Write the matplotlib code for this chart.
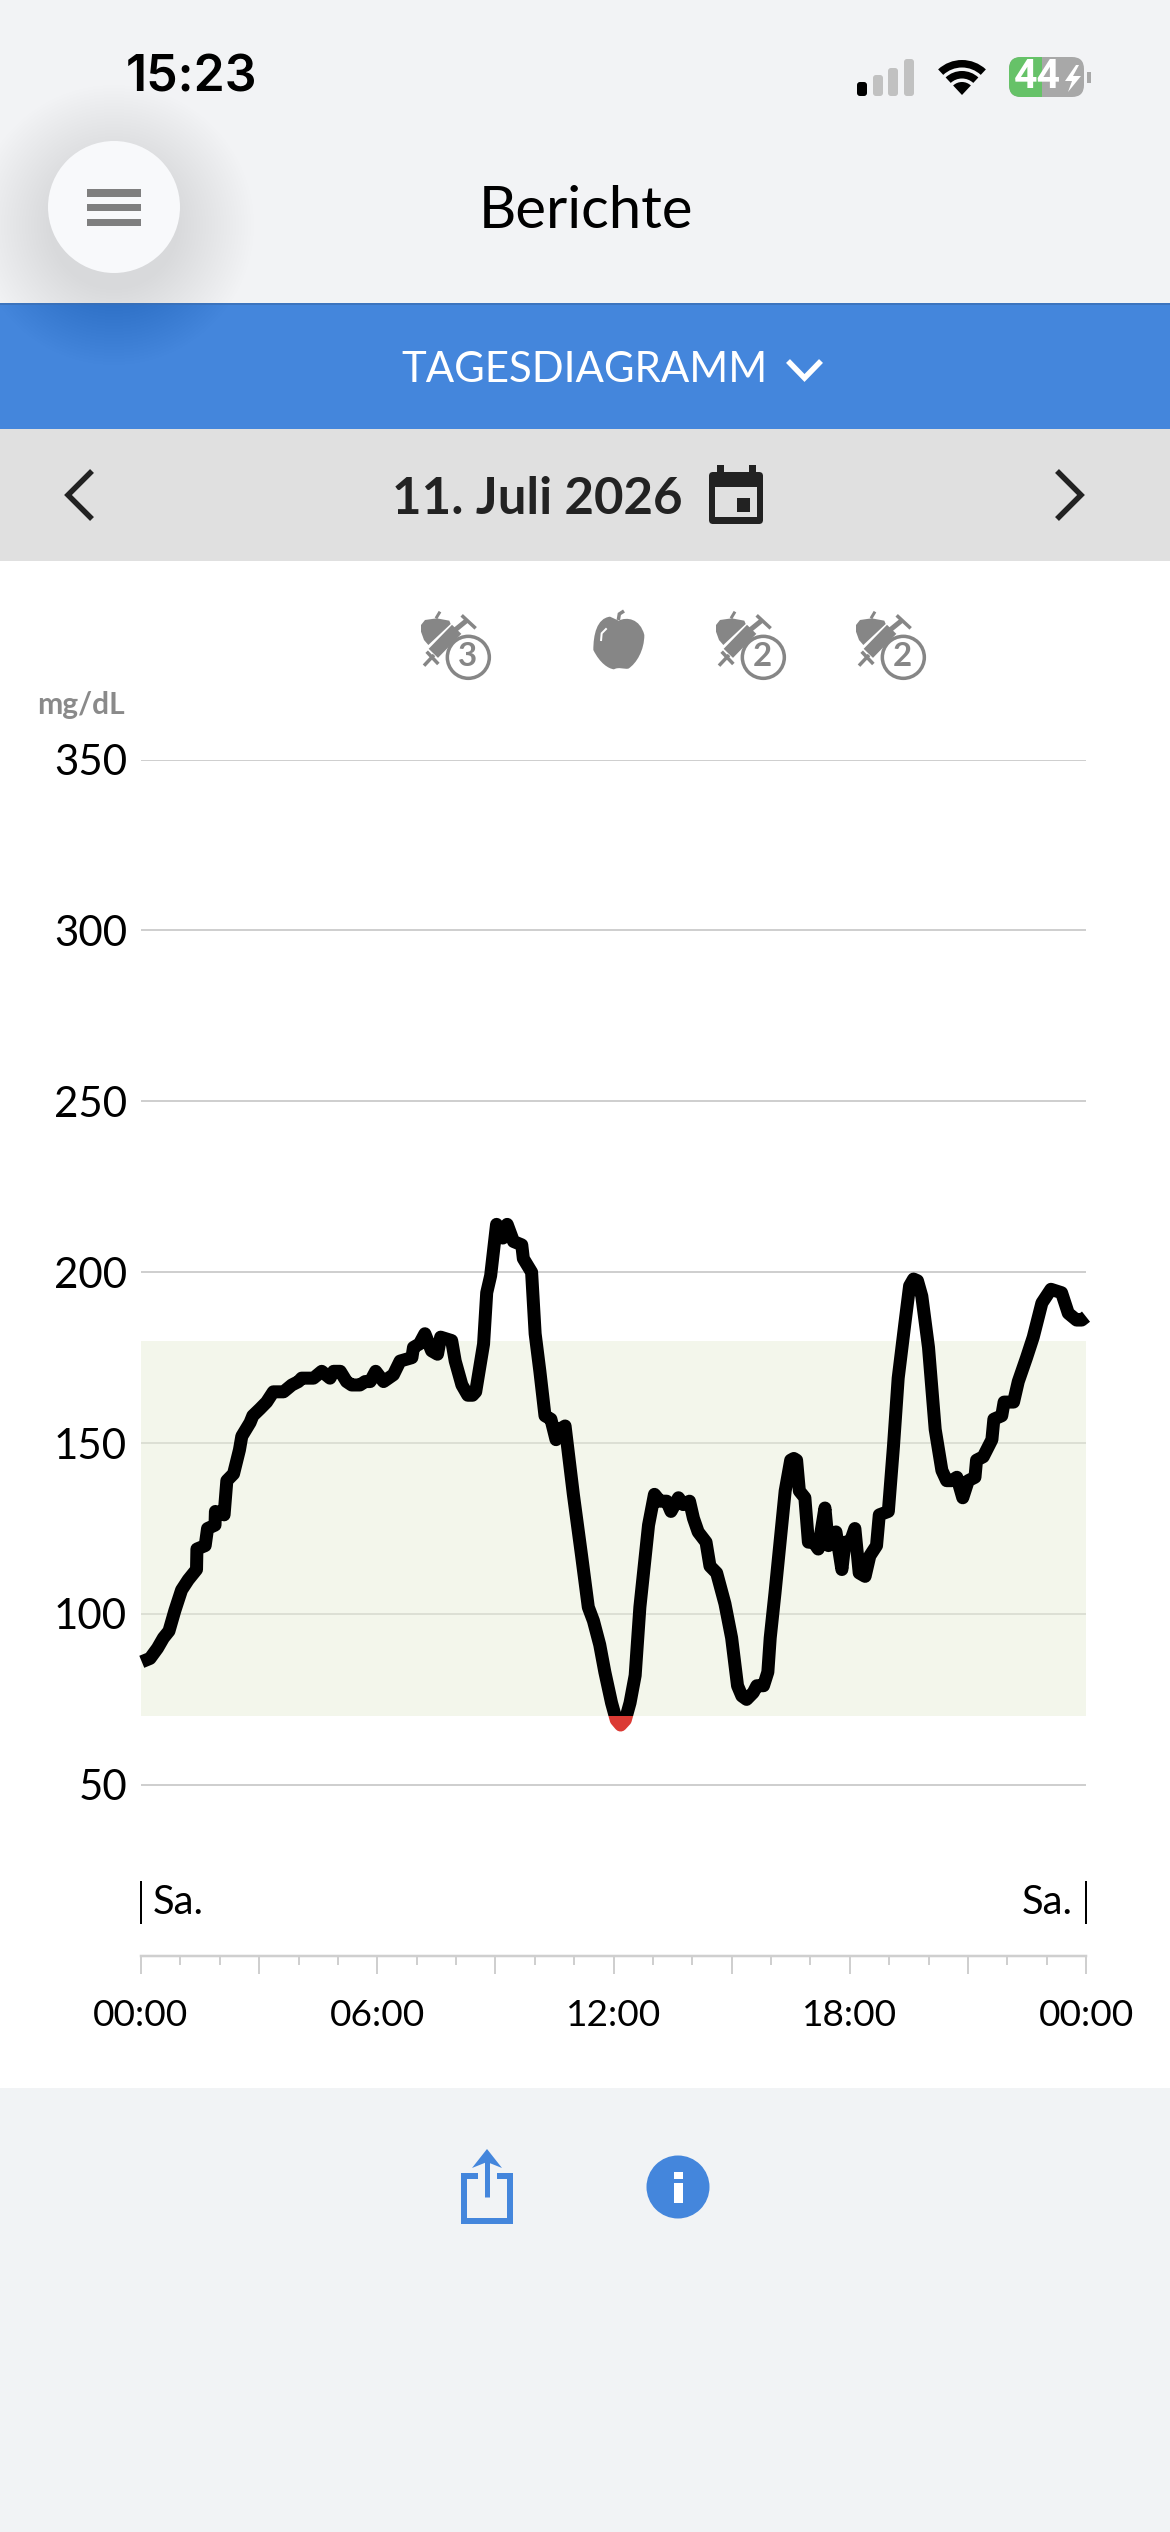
import matplotlib
matplotlib.use("Agg")
import matplotlib.pyplot as plt
from matplotlib.patches import Circle, Rectangle, Wedge, FancyBboxPatch, Polygon, PathPatch
from matplotlib.path import Path

# lectura de la curva (hora, mg/dL)
horas = [0.02, 0.23, 0.42, 0.57, 0.71, 0.86, 1.03, 1.20, 1.41, 1.42, 1.63, 1.69, 1.88, 1.89, 2.11, 2.18,
         2.35, 2.50, 2.56, 2.77, 2.84, 3.02, 3.19, 3.36, 3.62, 3.83, 4.00, 4.08, 4.38, 4.59, 4.80, 4.89,
         5.06, 5.22, 5.35, 5.56, 5.69, 5.82, 5.96, 6.16, 6.41, 6.58, 6.88, 6.92, 7.07, 7.21, 7.38, 7.53,
         7.61, 7.89, 7.98, 8.15, 8.30, 8.42, 8.50, 8.70, 8.78, 8.88, 9.03, 9.19, 9.30, 9.46, 9.67, 9.71, 9.92,
         10.01, 10.13, 10.26, 10.41, 10.54, 10.63, 10.77, 10.98, 11.19, 11.36, 11.49, 11.65, 11.78, 11.95,
         12.07, 12.18, 12.30, 12.42, 12.55, 12.67, 12.89, 13.04, 13.18, 13.35, 13.46, 13.65, 13.77, 13.93, 14.03, 14.15,
         14.35, 14.45, 14.62, 14.83, 15.00, 15.15, 15.26, 15.38, 15.55, 15.64, 15.81, 15.92, 15.98, 16.10,
         16.23, 16.36, 16.50, 16.58, 16.65, 16.72, 16.86, 16.95, 17.08, 17.20, 17.37, 17.46, 17.65, 17.80, 17.88,
         18.01, 18.13, 18.24, 18.39, 18.51, 18.68, 18.75, 18.98, 19.11, 19.23, 19.40, 19.52, 19.62, 19.72, 19.83,
         20.00, 20.17, 20.34, 20.46, 20.59, 20.72, 20.87, 21.01, 21.18, 21.22, 21.39, 21.61, 21.66, 21.86,
         21.92, 22.16, 22.28, 22.49, 22.66, 22.88, 23.11, 23.38, 23.55, 23.76, 23.89, 24.00]
glucosa = [86, 87, 90, 93, 95, 101, 107, 110, 113, 119, 120, 125, 126, 130, 129, 139,
           141, 148, 152, 156, 158, 160, 162, 165, 165, 167, 168, 169, 169, 171, 169, 171,
           171, 168, 167, 167, 168, 168, 171, 168, 170, 174, 175, 178, 179, 182, 177, 176,
           181, 180, 174, 167, 164, 164, 165, 179, 194, 199, 214, 210, 214, 209, 208, 204, 200,
           182, 171, 158, 157, 151, 154, 155, 135, 117, 102, 98, 91, 83, 74,
           69, 67.5, 69, 74, 82, 102, 126, 135, 133, 133, 130, 134, 132, 133, 128, 124,
           121, 114, 112, 103, 93, 79, 76, 75, 77, 79, 79, 83, 93, 106,
           121, 136, 145, 145.5, 145, 136, 134, 121, 121, 119, 131, 120, 124, 113, 121,
           121, 125, 112, 111, 117, 120, 129, 130, 149, 169, 185, 196, 198, 197.5, 193,
           178, 154, 142, 139, 139, 140, 134, 139, 140, 145, 146, 151, 157, 158,
           162, 162, 168, 175, 181, 191, 195, 194, 188, 186, 186, 187]

rango_min = 70
rango_max = 180
ticks_y = [50, 100, 150, 200, 250, 300, 350]
ticks_mayor = [0, 3, 6, 9, 12, 15, 18, 21, 24]
etiquetas_x = ["00:00", "", "06:00", "", "12:00", "", "18:00", "", "00:00"]
ticks_menor = [1, 2, 4, 5, 7, 8, 10, 11, 13, 14, 16, 17, 19, 20, 22, 23]

FUENTE = "Lato"
AZUL = "#4486dc"
GRIS_ICONO = "#868686"
OSCURO = "#222222"


def pt(pixeles):
    # a 100 dpi
    return pixeles * 0.72


def rect(ax, x0, y0, x1, y1, color, **kw):
    ax.add_patch(Rectangle((x0, y0), x1 - x0, y1 - y0, facecolor=color, edgecolor="none", **kw))


def trazo(ax, xs, ys, color, ancho, cap="butt"):
    ax.plot(xs, ys, color=color, lw=pt(ancho), solid_capstyle=cap, solid_joinstyle="miter")


def dibujar_barra_estado(ui):
    ui.text(192, 78, "15:23", family="Inter", weight="semibold", fontsize=pt(50), color="black", ha="center", va="center")
    for x0, top, color in [(857, 82, "black"), (873, 75, "#c1c1c1"), (888, 68, "#c1c1c1"), (904, 59, "#c1c1c1")]:
        ui.add_patch(FancyBboxPatch((x0 + 2, top + 2), 6, 96 - top - 4, boxstyle="round,pad=2,rounding_size=3",
                                    facecolor=color, edgecolor="none"))
    # wifi
    ui.add_patch(Wedge((962, 95), 35, 227, 313, width=7.5, facecolor="black", edgecolor="none"))
    ui.add_patch(Wedge((962, 95), 24, 227, 313, width=7.5, facecolor="black", edgecolor="none"))
    ui.add_patch(Wedge((962, 95), 13, 227, 313, facecolor="black", edgecolor="none"))
    # bateria
    gris = FancyBboxPatch((1021, 69), 51, 16, boxstyle="round,pad=12,rounding_size=12", facecolor="#a8a8a8", edgecolor="none")
    verde = FancyBboxPatch((1021, 69), 51, 16, boxstyle="round,pad=12,rounding_size=12", facecolor="#66c268", edgecolor="none")
    ui.add_patch(gris)
    ui.add_patch(verde)
    verde.set_clip_path(Rectangle((1000, 50), 42, 60, transform=ui.transData))
    ui.text(1037, 77.5, "44", family="Roboto", weight="bold", fontsize=pt(41), color="white", ha="center", va="center")
    ui.add_patch(Polygon([(1076, 65), (1065, 81), (1072, 81), (1068, 92), (1081, 76), (1073, 76), (1079, 65)],
                         facecolor="white", edgecolor="none"))
    rect(ui, 1087, 72, 1091, 83, "#a8a8a8")


def dibujar_cabecera(ui):
    rect(ui, 0, 0, 1170, 303, "#f2f3f5")
    rect(ui, 0, 303, 1170, 429, AZUL)
    rect(ui, 0, 429, 1170, 561, "#e0e0e0")
    rect(ui, 0, 561, 1170, 2088, "white")
    rect(ui, 0, 2088, 1170, 2532, "#f1f3f5")
    ui.plot([0, 1170], [303.5, 303.5], color="#3a6fb5", lw=pt(1.5))

    # sombra del boton
    for r in range(140, 64, -3):
        ui.add_patch(Circle((114, 225), r, facecolor="black", edgecolor="none", alpha=0.0024))
    ui.add_patch(Circle((114, 207), 66, facecolor="#f8f9fb", edgecolor="none"))
    for y0, y1 in [(189, 196.5), (203.5, 211), (218.5, 225.5)]:
        rect(ui, 87, y0, 141, y1, "#7f7f7f")

    ui.text(586, 212, "Berichte", family=FUENTE, fontsize=pt(58), color="black", ha="center", va="center")
    ui.text(584, 370, "TAGESDIAGRAMM", family=FUENTE, fontsize=pt(42), color="white", ha="center", va="center")
    trazo(ui, [788, 804.5, 821], [361, 378, 361], "white", 5.5)

    trazo(ui, [92, 68, 92], [471, 495, 519], OSCURO, 5.5)
    trazo(ui, [1057, 1081, 1057], [471, 495, 519], OSCURO, 5.5)
    ui.text(537, 499, "11. Juli 2026", family=FUENTE, weight="bold", fontsize=pt(51), color=OSCURO, ha="center", va="center")

    # calendario
    ui.add_patch(FancyBboxPatch((712, 475), 48, 46, boxstyle="round,pad=3,rounding_size=4", facecolor=OSCURO, edgecolor="none"))
    rect(ui, 717, 465, 724, 474, OSCURO)
    rect(ui, 749, 465, 756, 474, OSCURO)
    rect(ui, 715, 487, 757, 517, "#e0e0e0")
    rect(ui, 737, 498, 750, 512, OSCURO)


def icono_manzana_jeringa(ui, dx, numero):
    def X(z):
        return 410 + dx + z / 3

    def Y(z):
        return 600 + z / 3

    ui.add_patch(Polygon([(X(a), Y(b)) for a, b in
                          [(33, 75), (45, 60), (80, 55), (118, 62), (122, 72), (55, 135), (42, 120), (33, 95)]],
                         facecolor=GRIS_ICONO, edgecolor="none"))
    trazo(ui, [X(78), X(90)], [Y(55), Y(35)], GRIS_ICONO, 3)
    # jeringa
    trazo(ui, [X(70), X(140)], [Y(160), Y(88)], GRIS_ICONO, 13)
    trazo(ui, [X(135), X(172)], [Y(90), Y(60)], GRIS_ICONO, 5)
    trazo(ui, [X(155), X(197)], [Y(46), Y(85)], GRIS_ICONO, 3.5)
    trazo(ui, [X(42), X(72)], [Y(197), Y(165)], GRIS_ICONO, 3.5)
    trazo(ui, [X(50), X(85)], [Y(155), Y(192)], GRIS_ICONO, 3.5)
    ui.add_patch(Circle((X(175), Y(172)), 21, facecolor="white", edgecolor=GRIS_ICONO, lw=pt(3.5)))
    ui.text(X(172), Y(170), numero, family=FUENTE, weight="bold", fontsize=pt(33), color=GRIS_ICONO, ha="center", va="center")


def icono_manzana(ui):
    def P(a, b):
        return (410 + a / 3, 600 + b / 3)

    v = [P(626, 62), P(650, 50), P(690, 55), P(703, 105), P(703, 150), P(680, 190), P(655, 206), P(640, 208), P(626, 200),
         P(612, 208), P(595, 206), P(570, 190), P(550, 150), P(550, 105), P(560, 55), P(600, 50), P(626, 62)]
    codigos = [Path.MOVETO] + [Path.CURVE4] * 15 + [Path.LINETO]
    ui.add_patch(PathPatch(Path(v, codigos), facecolor=GRIS_ICONO, edgecolor="none"))
    trazo(ui, [P(625, 60)[0], P(628, 42)[0], P(642, 33)[0]], [P(625, 60)[1], P(628, 42)[1], P(642, 33)[1]], GRIS_ICONO, 3.5)
    trazo(ui, [P(573, 123)[0], P(575, 100)[0], P(590, 85)[0]], [P(573, 123)[1], P(575, 100)[1], P(590, 85)[1]], "white", 2)


def dibujar_pie(ui):
    # compartir
    trazo(ui, [478, 464, 464, 510, 510, 497], [2176, 2176, 2221, 2221, 2176, 2176], AZUL, 6)
    trazo(ui, [487, 487], [2197, 2160], AZUL, 5)
    ui.add_patch(Polygon([(487, 2149), (502, 2168), (487, 2162), (472, 2168)], facecolor=AZUL, edgecolor="none"))
    # info
    ui.add_patch(Circle((678, 2187), 31.5, facecolor=AZUL, edgecolor="none"))
    rect(ui, 674, 2172, 683, 2179, "white")
    rect(ui, 674, 2183, 683, 2203, "white")


def dibujar_curva(ax):
    ax.set_xlim(0, 24)
    ax.set_ylim(0, 350)
    ax.axhspan(rango_min, rango_max, facecolor=(0.914, 0.938, 0.85), edgecolor="none", alpha=0.5, zorder=1)

    negra, = ax.plot(horas, glucosa, color="black", lw=pt(13), solid_joinstyle="round", solid_capstyle="butt", zorder=3)
    roja, = ax.plot(horas, glucosa, color="#db3a34", lw=pt(13), solid_joinstyle="round", solid_capstyle="butt", zorder=3)
    negra.set_clip_path(Rectangle((-1, rango_min), 26, 300, transform=ax.transData))
    roja.set_clip_path(Rectangle((-1, 0), 26, rango_min, transform=ax.transData))

    ax.set_axisbelow(True)
    ax.yaxis.grid(True, color="#cfcfcf", lw=pt(2))
    for lado in ["top", "left", "right"]:
        ax.spines[lado].set_visible(False)
    ax.spines["bottom"].set_color("#cfcfcf")
    ax.spines["bottom"].set_linewidth(pt(2.5))

    ax.set_yticks(ticks_y)
    ax.tick_params(axis="y", length=0, pad=pt(14), labelsize=pt(42), labelcolor="black")
    ax.set_xticks(ticks_mayor, etiquetas_x)
    ax.set_xticks(ticks_menor, minor=True)
    ax.tick_params(axis="x", which="major", length=pt(18), width=pt(2), color="#cfcfcf", pad=pt(25), labelsize=pt(37))
    ax.tick_params(axis="x", which="minor", length=pt(9), width=pt(2), color="#cfcfcf")
    for etiqueta in ax.get_xticklabels() + ax.get_yticklabels():
        etiqueta.set_family(FUENTE)

    ax.plot([0, 0], [9.5, 21.5], color="black", lw=pt(2), clip_on=False)
    ax.plot([24, 24], [9.5, 21.5], color="black", lw=pt(2), clip_on=False)
    ax.text(0.3, 15.5, "Sa.", family=FUENTE, fontsize=pt(40), ha="left", va="center")
    ax.text(23.67, 15.5, "Sa.", family=FUENTE, fontsize=pt(40), ha="right", va="center")
    ax.text(-2.65, 366, "mg/dL", family=FUENTE, weight="bold", fontsize=pt(30), color="#8a8a8a", ha="left", va="center")


def generar_pantalla():
    fig = plt.figure(figsize=(11.7, 25.32), dpi=100)

    ui = fig.add_axes([0, 0, 1, 1], zorder=0)
    ui.set_xlim(0, 1170)
    ui.set_ylim(2532, 0)
    ui.axis("off")

    dibujar_cabecera(ui)
    dibujar_barra_estado(ui)
    icono_manzana_jeringa(ui, 0, "3")
    icono_manzana(ui)
    icono_manzana_jeringa(ui, 295, "2")
    icono_manzana_jeringa(ui, 435, "2")
    dibujar_pie(ui)
    ui.set_xlim(0, 1170)
    ui.set_ylim(2532, 0)

    ax = fig.add_axes([141 / 1170, 1 - 1955.7 / 2532, 945 / 1170, (1955.7 - 759.6) / 2532], zorder=1)
    ax.patch.set_visible(False)
    dibujar_curva(ax)

    fig.savefig("out.png", dpi=100)


if __name__ == "__main__":
    generar_pantalla()
